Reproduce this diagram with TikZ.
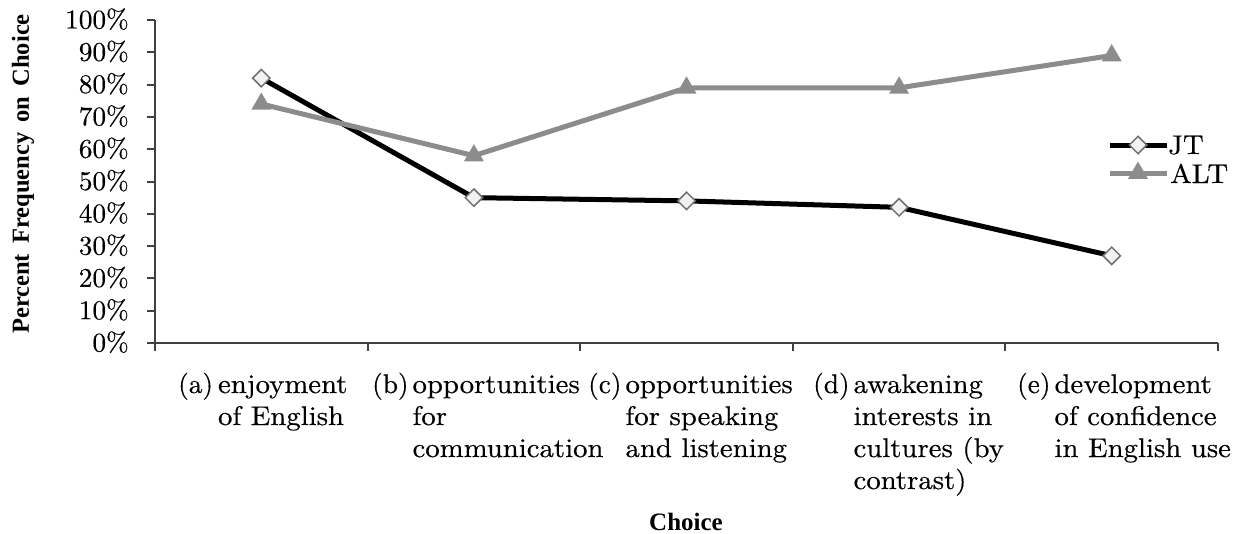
\documentclass[tikz,border=0pt]{standalone}
\usepackage{fontspec}
\newfontfamily\tnr{Liberation Serif}
\newfontfamily\wlm{lmroman10-regular.otf}[FakeStretch=1.065,FakeBold=0.4]
\newfontfamily\wlmt{lmroman10-regular.otf}[FakeStretch=1.01,FakeBold=0.4]
\usetikzlibrary{shapes.geometric}
\definecolor{altgray}{HTML}{8C8C8C}
\definecolor{axisgray}{HTML}{404040}
\definecolor{mkborder}{HTML}{707070}
\definecolor{mkfill}{HTML}{F2F2F2}
\newcommand{\mytxt}{\wlm\fontsize{27}{32}\selectfont}
\newcommand{\mytick}{\wlmt\fontsize{27}{32}\selectfont}
\newcommand{\lbl}[1]{{\mytick #1}}
\begin{document}
\begin{tikzpicture}[x=1pt,y=-1pt,
  axisline/.style={draw=axisgray,line width=2pt},
  jtline/.style={draw=black,line width=5pt,line join=round},
  altline/.style={draw=altgray,line width=5pt,line join=round},
  jtmark/.style={diamond,draw=mkborder,fill=mkfill,line width=1.5pt,minimum width=18pt,minimum height=18pt,inner sep=0pt},
  altmark/.style={regular polygon,regular polygon sides=3,fill=altgray,minimum size=23pt,inner sep=0pt},
  ticklab/.style={anchor=base east,inner sep=0pt,font=\mytick},
  catlab/.style={anchor=base west,inner sep=0pt,font=\mytxt},
  ttl/.style={inner sep=0pt,font=\tnr\bfseries\fontsize{25}{30}\selectfont},
  legtext/.style={anchor=base west,inner sep=0pt,font=\mytxt}
]
\useasboundingbox (0,0) rectangle (1236,533);
% axes
\coordinate (ytop) at (155,20);
\coordinate (orig) at (155,343);
\coordinate (xend) at (1218,343);
\draw[axisline] (ytop) -- (orig) -- (xend);
\foreach \v in {0,10,...,100}{
  \pgfmathsetmacro{\yy}{343-3.23*\v}
  \draw[axisline] (147,\yy) -- (155,\yy);
  \node[ticklab] at (129,\yy+8.5) {\v\%};
}
\foreach \i in {0,...,5}{
  \pgfmathsetmacro{\xx}{155+212.6*\i}
  \draw[axisline] (\xx,343) -- (\xx,351);
}
% data coordinates
\foreach \n/\v [count=\i from 0] in {a/82,b/45,c/44,d/42,e/27}{
  \coordinate (J\n) at ({155+212.6*(\i+0.5)},{343-3.23*\v});
}
\foreach \n/\v [count=\i from 0] in {a/74,b/58,c/79,d/79,e/89}{
  \coordinate (A\n) at ({155+212.6*(\i+0.5)},{343-3.23*\v});
}
% JT series
\draw[jtline] (Ja) -- (Jb) -- (Jc) -- (Jd) -- (Je);
\foreach \n in {a,b,c,d,e}{\node[jtmark] (mJ\n) at (J\n) {};}
% ALT series
\draw[altline] (Aa) -- (Ab) -- (Ac) -- (Ad) -- (Ae);
\foreach \n in {a,b,c,d,e}{\node[altmark] (mA\n) at (A\n) {};}
% legend
\coordinate (lj1) at (1110,145);
\coordinate (lj2) at (1167,145);
\coordinate (la1) at (1110,173);
\coordinate (la2) at (1167,173);
\draw[jtline] (lj1) -- (lj2);
\node[jtmark] (ljm) at (1138,145) {};
\node[legtext] (ljt) at (1168,154) {JT};
\draw[altline] (la1) -- (la2);
\node[altmark] (lam) at (1138,173) {};
\node[legtext] (lat) at (1170,183) {ALT};
% category labels
\node[catlab] (ca) at (178,393) {\begin{tabular}[t]{@{}l@{\hspace{5pt}}l@{}}\lbl{(a)}&enjoyment\\&of English\end{tabular}};
\node[catlab] (cb) at (372,393) {\begin{tabular}[t]{@{}l@{\hspace{4pt}}l@{}}\lbl{(b)}&opportunities\\&for\\&communication\end{tabular}};
\node[catlab] (cc) at (588,393) {\begin{tabular}[t]{@{}l@{\hspace{4pt}}l@{}}\lbl{(c)}&opportunities\\&for speaking\\&and listening\end{tabular}};
\node[catlab] (cd) at (813,393) {\begin{tabular}[t]{@{}l@{\hspace{4pt}}l@{}}\lbl{(d)}&awakening\\&interests in\\&cultures (by\\&contrast)\end{tabular}};
\node[catlab] (ce) at (1017,393) {\begin{tabular}[t]{@{}l@{\hspace{4pt}}l@{}}\lbl{(e)}&development\\&of confidence\\&in English use\end{tabular}};
% titles
\node[ttl,rotate=90] (ytitle) at (23,174) {\fontsize{24.5}{30}\selectfont Percent\ \,Frequency\ \,on\ \,Choice};
\node[ttl,anchor=base] (xtitle) at (686,530) {Choice};
\end{tikzpicture}
\end{document}
